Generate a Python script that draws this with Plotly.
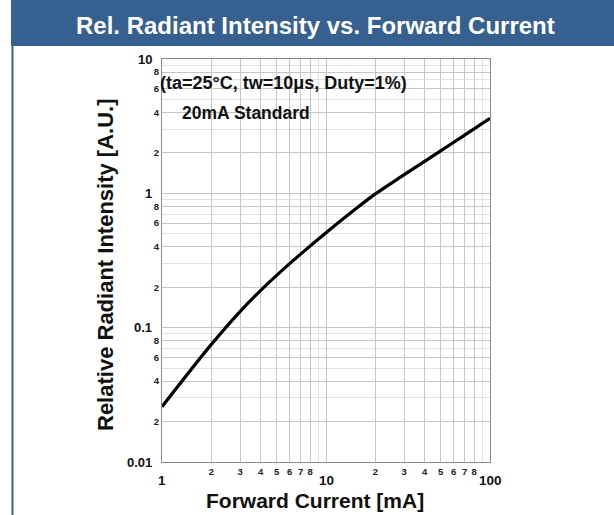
import numpy as np
import plotly.graph_objects as go

# Data
current_ma = [1, 2, 3, 4, 5, 7, 10, 15, 20, 30, 50, 70, 100]
rel_intensity = [0.0258, 0.0751, 0.1324, 0.1898, 0.2453, 0.3527, 0.509, 0.758,
                 0.99, 1.377, 2.07, 2.71, 3.62]

x_major_labels = [1, 10, 100]
y_major_labels = [0.01, 0.1, 1, 10]
x_minor_labeled = [2, 3, 4, 5, 6, 7, 8]
y_minor_labeled = [2, 4, 6, 8]

title_text = "Rel. Radiant Intensity vs. Forward Current"
x_title = "Forward Current [mA]"
y_title = "Relative Radiant Intensity [A.U.]"
cond_text = "(ta=25°C, tw=10μs, Duty=1%)"
std_text = "20mA Standard"

W, H = 614, 515
L, R, T, B = 162, 490, 59, 462  # plot area in px


def px_x(px):
    return (px - L) / (R - L)


def px_y(py):
    return (B - py) / (B - T)


# tick arrays
x_tickvals, x_ticktext = [], []
for dec in [1, 10]:
    x_tickvals.append(dec)
    x_ticktext.append("")
    for m in x_minor_labeled:
        x_tickvals.append(m * dec)
        x_ticktext.append(f"<b>{m}</b>")
x_tickvals.append(100)
x_ticktext.append("")
x_minor_vals = [9, 90]

y_tickvals, y_ticktext = [], []
for dec in [0.01, 0.1, 1]:
    y_tickvals.append(dec)
    y_ticktext.append("")
    for m in y_minor_labeled:
        y_tickvals.append(m * dec)
        y_ticktext.append(f"<b>{m}</b>")
y_tickvals.append(10)
y_ticktext.append("")
y_minor_vals = [m * d for d in [0.01, 0.1, 1] for m in [3, 5, 7, 9]]

FONT = "Liberation Sans, Arial, sans-serif"
BLUE = "#356090"

fig = go.Figure()
fig.add_trace(go.Scatter(x=current_ma, y=rel_intensity, mode="lines",
                         line=dict(color="black", width=3.2, shape="spline", smoothing=1),
                         showlegend=False, hoverinfo="skip"))

fig.update_xaxes(type="log", range=[0, 2], tickmode="array",
                 tickvals=x_tickvals, ticktext=x_ticktext,
                 tickfont=dict(family=FONT, size=9.5, color="#222"),
                 ticks="", showgrid=True, gridcolor="#c6c6c6", gridwidth=1,
                 minor=dict(tickmode="array", tickvals=x_minor_vals, showgrid=True,
                            gridcolor="#e2e2e2", ticks=""),
                 showline=True, linecolor="#8a8a8a", linewidth=1.3, mirror=True,
                 zeroline=False, ticklabelstandoff=0)
fig.update_yaxes(type="log", range=[-2, 1], tickmode="array",
                 tickvals=y_tickvals, ticktext=y_ticktext,
                 tickfont=dict(family=FONT, size=9.5, color="#222"),
                 ticks="", showgrid=True, gridcolor="#c6c6c6", gridwidth=1,
                 minor=dict(tickmode="array", tickvals=y_minor_vals, showgrid=True,
                            gridcolor="#e2e2e2", ticks=""),
                 showline=True, linecolor="#8a8a8a", linewidth=1.3, mirror=True,
                 zeroline=False, ticklabelstandoff=0)

annotations = []
for v in x_major_labels:
    annotations.append(dict(x=np.log10(v), y=px_y(481), xref="x", yref="paper",
                            text=f"<b>{v}</b>", showarrow=False,
                            font=dict(family=FONT, size=13.5, color="#111"),
                            xanchor="center", yanchor="middle"))
for v in y_major_labels:
    annotations.append(dict(x=px_x(154), y=np.log10(v), xref="paper", yref="y",
                            text=f"<b>{v:g}</b>", showarrow=False,
                            font=dict(family=FONT, size=13, color="#111"),
                            xanchor="right", yanchor="middle"))

annotations += [
    dict(x=px_x(315), y=px_y(25), xref="paper", yref="paper", text=f"<b>{title_text}</b>",
         showarrow=False, font=dict(family=FONT, size=24, color="white"),
         xanchor="center", yanchor="middle"),
    dict(x=px_x(314.5), y=px_y(501), xref="paper", yref="paper", text=f"<b>{x_title}</b>",
         showarrow=False, font=dict(family=FONT, size=21, color="#111"),
         xanchor="center", yanchor="middle"),
    dict(x=px_x(105), y=px_y(265), xref="paper", yref="paper", text=f"<b>{y_title}</b>",
         showarrow=False, font=dict(family=FONT, size=22, color="#111"), textangle=-90,
         xanchor="center", yanchor="middle"),
    dict(x=px_x(158), y=px_y(83), xref="paper", yref="paper", text=f"<b>{cond_text}</b>",
         showarrow=False, font=dict(family=FONT, size=18, color="#111"),
         xanchor="left", yanchor="middle"),
    dict(x=px_x(180), y=px_y(112.5), xref="paper", yref="paper", text=f"<b>{std_text}</b>",
         showarrow=False, font=dict(family=FONT, size=17.5, color="#111"),
         xanchor="left", yanchor="middle"),
]

shapes = [
    dict(type="rect", xref="paper", yref="paper", x0=px_x(11), x1=px_x(614),
         y0=px_y(46), y1=px_y(0), fillcolor=BLUE, line=dict(width=0), layer="below"),
    dict(type="line", xref="paper", yref="paper", x0=px_x(12.5), x1=px_x(12.5),
         y0=px_y(46), y1=px_y(515), line=dict(color=BLUE, width=2)),
]

fig.update_layout(width=W, height=H, margin=dict(l=L, r=W - R, t=T, b=H - B),
                  paper_bgcolor="white", plot_bgcolor="white",
                  annotations=annotations, shapes=shapes, showlegend=False)

fig.write_html("out.html", config={"displayModeBar": False},
               post_script="document.body.style.margin='0';document.body.style.overflow='hidden';")
